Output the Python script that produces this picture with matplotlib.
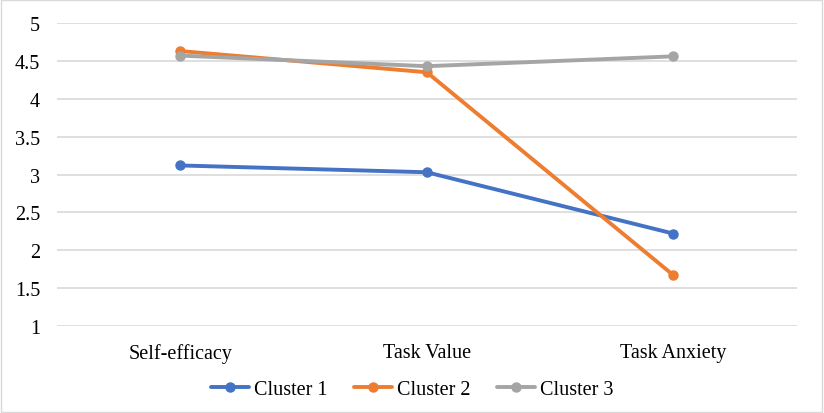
import matplotlib.pyplot as plt
from matplotlib.patches import Rectangle

plt.rcParams['font.family'] = ['Liberation Serif', 'DejaVu Serif']

# data
categories = ['Self-efficacy', 'Task Value', 'Task Anxiety']
cluster1 = [3.12, 3.03, 2.22]
cluster2 = [4.63, 4.35, 1.67]
cluster3 = [4.57, 4.43, 4.56]
series_names = ['Cluster 1', 'Cluster 2', 'Cluster 3']
colors = ['#4472C4', '#ED7D31', '#A5A5A5']

fig = plt.figure(figsize=(8.24, 4.14), dpi=100)
ax = fig.add_axes([0.069, 0.21, 0.898, 0.732])

x = range(len(categories))
for vals, name, c in zip([cluster1, cluster2, cluster3], series_names, colors):
    ax.plot(x, vals, color=c, lw=2.8, marker='o', ms=6.5, label=name,
            solid_capstyle='round', zorder=3)

ax.set_xlim(-0.5, len(categories) - 0.5)
ax.set_ylim(1, 5)
ax.set_yticks([1, 1.5, 2, 2.5, 3, 3.5, 4, 4.5, 5])
ax.set_yticklabels(['1', '1.5', '2', '2.5', '3', '3.5', '4', '4.5', '5'])
ax.set_xticks(list(x))
ax.set_xticklabels(categories)
ax.tick_params(axis='both', length=0, labelsize=14.5, colors='#000000')
ax.tick_params(axis='x', pad=12)
ax.tick_params(axis='y', pad=12)
ax.grid(axis='y', color='#D9D9D9', lw=1.2, zorder=0)
for s in ax.spines.values():
    s.set_visible(False)

fig.legend(loc='center', bbox_to_anchor=(0.5, 0.056), ncol=3, frameon=False,
           fontsize=14.5, handlelength=1.9, handletextpad=0.25, columnspacing=1.3)

fig.patches.append(Rectangle((0.001, 0.002), 0.997, 0.995, transform=fig.transFigure,
                             fill=False, ec='#D9D9D9', lw=1.0))

fig.savefig('out.png', dpi=100)
